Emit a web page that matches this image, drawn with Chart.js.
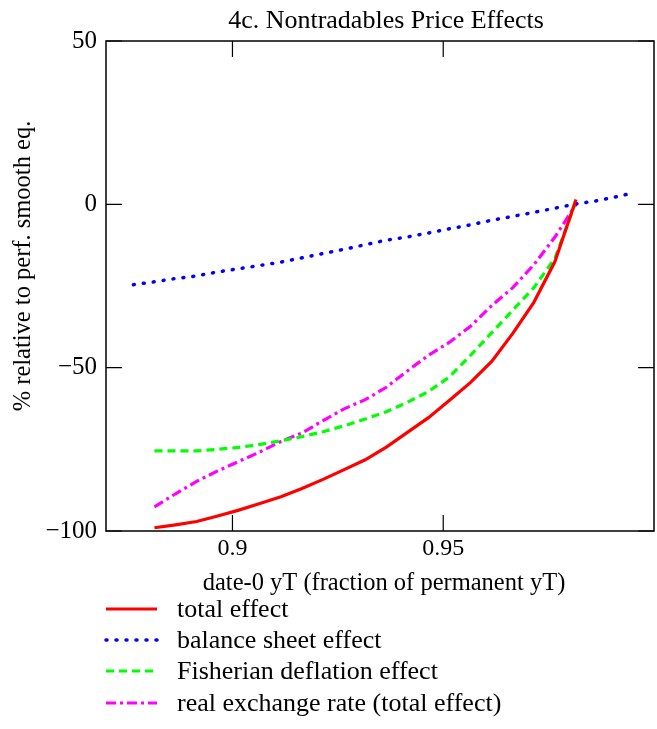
<!DOCTYPE html>
<html>
<head>
<meta charset="utf-8">
<title>4c. Nontradables Price Effects</title>
<script src="https://cdn.jsdelivr.net/npm/chart.js@4.4.0/dist/chart.umd.min.js"></script>
<style>
  html, body { margin: 0; padding: 0; background: #fff; }
  #wrap { width: 657px; height: 729px; }
</style>
</head>
<body>
<div id="wrap"><canvas id="chart" width="657" height="729"></canvas></div>
<script>
// x values (date-0 yT as fraction of permanent yT)
const yTShare = [0.8815, 0.8865, 0.8915, 0.8965, 0.9015, 0.9065, 0.9115, 0.9165, 0.9215, 0.9265,
  0.9315, 0.9365, 0.9415, 0.9465, 0.9515, 0.9565, 0.9615, 0.9665, 0.9715, 0.9765, 0.9815];
const totalEffect = [-99.0, -98.1, -97.1, -95.4, -93.6, -91.6, -89.5, -87.0, -84.2, -81.2,
  -78.2, -74.3, -69.8, -65.3, -60.0, -54.5, -48.1, -39.5, -30.0, -17.5, 1.5];
const fisherEffect = [-75.5, -75.5, -75.5, -75.0, -74.4, -73.5, -72.4, -71.1, -69.6, -67.8,
  -65.7, -63.5, -60.6, -57.3, -52.8, -46.2, -39.3, -32.4, -25.5, -16.5, 0.8];
const rerEffect = [-92.6, -88.6, -84.8, -81.6, -78.7, -75.8, -72.6, -70.0, -66.2, -62.6,
  -59.8, -56.0, -51.0, -46.2, -42.2, -37.3, -31.0, -25.5, -18.5, -10.0, 0.0];

// balance sheet effect sits on its own, wider grid
const yTShareBS = [0.8765, 0.881, 0.886, 0.891, 0.896, 0.901, 0.906, 0.911, 0.916, 0.921, 0.926,
  0.931, 0.936, 0.941, 0.946, 0.951, 0.956, 0.961, 0.966, 0.971, 0.976, 0.981, 0.986, 0.991, 0.9948];
const balanceEffect = [-24.6, -23.8, -22.8, -22.0, -20.8, -19.8, -18.8, -17.8, -16.5, -15.2, -13.9,
  -12.5, -11.1, -10.1, -8.9, -7.6, -6.4, -5.0, -3.8, -2.6, -1.3, 0.0, 1.0, 2.3, 3.4];

const xTicks = [0.9, 0.95];
const yTicks = [-100, -50, 0, 50];

const serif = "'Liberation Serif', 'DejaVu Serif', serif";

function toPoints(xs, ys) {
  return xs.map((x, i) => ({ x: x, y: ys[i] }));
}

// frame, inward ticks, titles and legend
const decorations = {
  id: "decorations",
  afterDraw(chart) {
    const c = chart.ctx;
    const a = chart.chartArea;
    const sx = chart.scales.x;
    const sy = chart.scales.y;
    const tick = 16;

    c.save();
    c.strokeStyle = "#000";
    c.lineWidth = 1.5;
    c.strokeRect(a.left, a.top, a.right - a.left, a.bottom - a.top);

    c.lineWidth = 1.2;
    c.beginPath();
    xTicks.forEach((v) => {
      const px = sx.getPixelForValue(v);
      c.moveTo(px, a.bottom);
      c.lineTo(px, a.bottom - tick);
      c.moveTo(px, a.top);
      c.lineTo(px, a.top + tick);
    });
    yTicks.forEach((v) => {
      const py = sy.getPixelForValue(v);
      c.moveTo(a.left, py);
      c.lineTo(a.left + tick, py);
      c.moveTo(a.right, py);
      c.lineTo(a.right - tick, py);
    });
    c.stroke();

    c.fillStyle = "#000";
    c.textAlign = "center";
    c.textBaseline = "alphabetic";

    // chart title
    c.font = "26px " + serif;
    c.fillText("4c. Nontradables Price Effects", 386, 28);

    // axis titles
    c.font = "24.5px " + serif;
    c.fillText("date-0 yT (fraction of permanent yT)", 384, 590);
    c.save();
    c.translate(30, 266);
    c.rotate(-Math.PI / 2);
    c.fillText("% relative to perf. smooth eq.", 0, 0);
    c.restore();

    // legend
    const rowY = [609, 640, 671, 703];
    c.font = "26px " + serif;
    c.textAlign = "left";
    c.textBaseline = "middle";
    chart.data.datasets.forEach((ds, i) => {
      const y = rowY[i];
      c.strokeStyle = ds.borderColor;
      c.lineWidth = ds.borderWidth;
      c.lineCap = ds.borderCapStyle || "butt";
      c.setLineDash(ds.borderDash || []);
      c.beginPath();
      c.moveTo(106, y);
      c.lineTo(157, y);
      c.stroke();
      c.setLineDash([]);
      c.fillStyle = "#000";
      c.fillText(ds.label, 177, y + 1);
    });
    c.restore();
  },
};

new Chart(document.getElementById("chart"), {
  type: "scatter",
  data: {
    datasets: [
      {
        label: "total effect",
        data: toPoints(yTShare, totalEffect),
        borderColor: "#ff0000",
        borderWidth: 3.2,
      },
      {
        label: "balance sheet effect",
        data: toPoints(yTShareBS, balanceEffect),
        borderColor: "#0000ff",
        borderWidth: 3.5,
        borderDash: [1, 9],
        borderCapStyle: "round",
      },
      {
        label: "Fisherian deflation effect",
        data: toPoints(yTShare, fisherEffect),
        borderColor: "#00ff00",
        borderWidth: 3.2,
        borderDash: [8, 5],
      },
      {
        label: "real exchange rate (total effect)",
        data: toPoints(yTShare, rerEffect),
        borderColor: "#ff00ff",
        borderWidth: 3.2,
        borderDash: [10, 4, 3, 4],
      },
    ].map((d) => Object.assign({ showLine: true, pointRadius: 0, tension: 0, fill: false }, d)),
  },
  options: {
    responsive: false,
    animation: false,
    layout: { padding: { top: 41, right: 3, left: 4, bottom: 158 } },
    plugins: {
      legend: { display: false },
      title: { display: false },
      tooltip: { enabled: false },
    },
    scales: {
      x: {
        type: "linear",
        min: 0.87,
        max: 1.0,
        afterBuildTicks: (axis) => {
          axis.ticks = xTicks.map((v) => ({ value: v }));
        },
        afterFit: (scale) => {
          scale.height = 40;
        },
        grid: { display: false, drawTicks: false },
        border: { display: false },
        ticks: {
          color: "#000",
          font: { family: serif, size: 24 },
          padding: 3,
          maxRotation: 0,
          callback: (v) => String(v),
        },
      },
      y: {
        type: "linear",
        min: -100,
        max: 50,
        afterBuildTicks: (axis) => {
          axis.ticks = yTicks.map((v) => ({ value: v }));
        },
        afterFit: (scale) => {
          scale.width = 102;
        },
        grid: { display: false, drawTicks: false },
        border: { display: false },
        ticks: {
          color: "#000",
          font: { family: serif, size: 25 },
          padding: 9,
          callback: (v) => (v < 0 ? "\u2212" + Math.abs(v) : String(v)),
        },
      },
    },
  },
  plugins: [decorations],
});
</script>
</body>
</html>
